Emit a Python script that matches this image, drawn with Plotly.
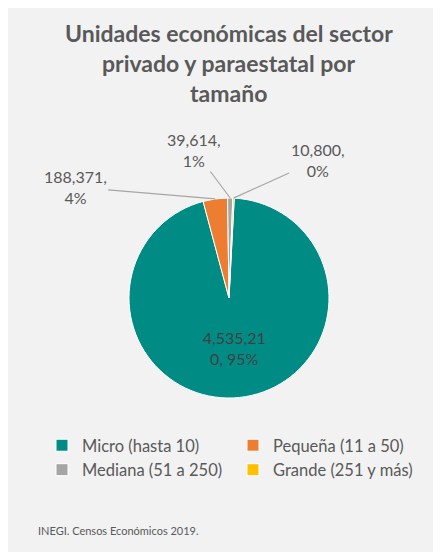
import numpy as np
import plotly.graph_objects as go

categories = ["Micro (hasta 10)", "Pequeña (11 a 50)", "Mediana (51 a 250)", "Grande (251 y más)"]
values = [4535210, 188371, 39614, 10800]
colors = ["#008c84", "#ed7d31", "#a5a5a5", "#ffc000"]
title_lines = ["Unidades económicas del sector", "privado y paraestatal por", "tamaño"]
source_note = "INEGI. Censos Económicos 2019."

W, H = 441, 552
CX, CY, R = 221, 290, 100
ROT = 3
FONT = "Lato, Open Sans, sans-serif"

total = sum(values)
pcts = [round(100 * v / total) for v in values]

# inside label for the big slice (wrapped as in the original)
big = f"{values[0]:,}, {pcts[0]}%"
inside_text = [big[:8] + "<br>" + big[8:], "", "", ""]

fig = go.Figure(go.Pie(
    labels=categories,
    values=values,
    marker=dict(colors=colors, line=dict(color="white", width=1)),
    text=inside_text,
    textinfo="text",
    textposition=["inside", "none", "none", "none"],
    insidetextorientation="horizontal",
    textfont=dict(family=FONT, size=16, color="#404040"),
    sort=False,
    direction="clockwise",
    rotation=ROT,
    hoverinfo="label+value+percent",
    domain=dict(x=[(CX - R) / W, (CX + R) / W], y=[1 - (CY + R) / H, 1 - (CY - R) / H]),
))

# leader-line labels for the small slices (tips computed from data)
fracs = np.array(values) / total
cum = np.concatenate([[0], np.cumsum(fracs)[:-1]])
offsets = {1: (-140, -12), 2: (-36, -48), 3: (84, -38)}
annotations = []
for i in (1, 2, 3):
    theta = np.deg2rad(ROT + 360 * (cum[i] + fracs[i] / 2))
    px = CX + R * np.sin(theta)
    py = CY - R * np.cos(theta)
    ax, ay = offsets[i]
    annotations.append(dict(
        x=px / W, y=1 - py / H, xref="paper", yref="paper",
        text=f"{values[i]:,},<br>{pcts[i]}%",
        showarrow=True, arrowhead=0, arrowwidth=1.2, arrowcolor="#a6a6a6",
        ax=ax, ay=ay, align="center",
        font=dict(family=FONT, size=16, color="#595959"),
    ))

# title, one annotation per line to match the original line spacing
for k, line in enumerate(title_lines):
    annotations.append(dict(
        x=0.5, y=1 - (25 + 30 * k) / H, xref="paper", yref="paper",
        xanchor="center", yanchor="middle", showarrow=False,
        text=f"<b>{line}</b>",
        font=dict(family=FONT, size=23, color="#595959"),
    ))

annotations.append(dict(
    x=28 / W, y=1 - 522 / H, xref="paper", yref="paper", xanchor="left", yanchor="middle",
    text=source_note, showarrow=False,
    font=dict(family=FONT, size=11, color="#595959"),
))

fig.update_layout(
    width=W, height=H,
    paper_bgcolor="#f2f2f2", plot_bgcolor="#f2f2f2",
    margin=dict(l=0, r=0, t=0, b=0),
    legend=dict(
        orientation="h", x=34 / W, y=1 - 420 / H, xanchor="left", yanchor="top",
        entrywidth=146, entrywidthmode="pixels",
        font=dict(family=FONT, size=16.5, color="#595959"),
        bgcolor="rgba(0,0,0,0)",
    ),
    annotations=annotations,
)

fig.write_html("out.html")
